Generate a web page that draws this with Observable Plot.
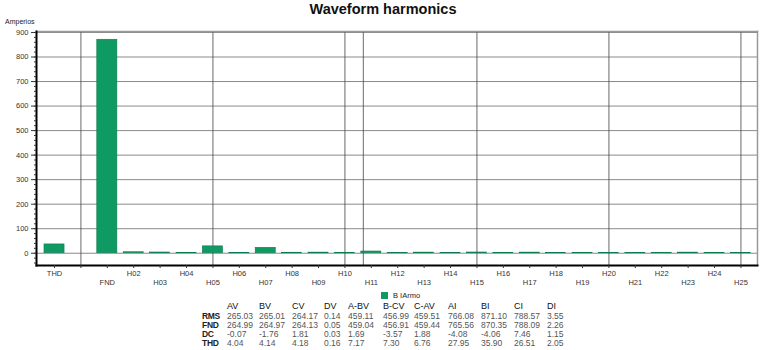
<!DOCTYPE html>
<html><head><meta charset="utf-8">
<script src="https://cdn.jsdelivr.net/npm/d3@7"></script>
<script src="https://cdn.jsdelivr.net/npm/@observablehq/plot@0.6"></script>
<style>
body{margin:0;background:#fff;font-family:"Liberation Sans",Arial,sans-serif;}
#wrap{position:relative;width:762px;height:350px;overflow:hidden;background:#fff}
#title{position:absolute;left:0;width:766px;top:1px;text-align:center;font-size:14.5px;font-weight:bold;color:#111;line-height:16px}
#unit{position:absolute;left:5px;top:18px;font-size:7px;color:#222}
.cell{position:absolute;font-size:8.5px;line-height:10px;white-space:nowrap}
.hdr{color:#111;font-size:9px}
.val{color:#555}
.rl{color:#222;font-weight:bold;font-size:8.5px;letter-spacing:-0.3px}
#legend{position:absolute;left:381px;top:291px;font-size:7.5px;color:#222;line-height:9px}
#legend span.sw{display:inline-block;width:7px;height:7px;background:#109a63;vertical-align:-1px;margin-right:5px}
</style></head><body><div id="wrap"></div>
<script>
// ---- data ----
const categories = ["THD","","FND","H02","H03","H04","H05","H06","H07","H08","H09","H10","H11","H12","H13","H14","H15","H16","H17","H18","H19","H20","H21","H22","H23","H24","H25"];
const values = [35.90, null, 870.35, 4, 3, 1.5, 28, 1.5, 22, 2, 2.5, 1.5, 7, 0.5, 2.5, 0.5, 3, 0.5, 2.5, 0.3, 0.5, 0.3, 0.5, 0.3, 2.5, 0.3, 0.3];
const upperLabels = ["THD","H02","H04","H06","H08","H10","H12","H14","H16","H18","H20","H22","H24"];
const lowerLabels = ["FND","H03","H05","H07","H09","H11","H13","H15","H17","H19","H21","H23","H25"];
const yTicks = [0,100,200,300,400,500,600,700,800,900];
const yMinorTicks = [-40,-20,0,20,40,60,80,100,120,140,160,180,200,220,240,260,280,300,320,340,360,380,400,420,440,460,480,500,520,540,560,580,600,620,640,660,680,700,720,740,760,780,800,820,840,860,880,900];
const gridCategories = ["","H05","H10","H15","H20","H25"];
const cursorCategory = ["H11"];
const seriesName = "B IArmo";
const titleText = "Waveform harmonics";
const unitText = "Amperios";
const tableCols = ["AV","BV","CV","DV","A-BV","B-CV","C-AV","AI","BI","CI","DI"];
const tableRows = ["RMS","FND","DC","THD"];
const rmsVals = ["265.03","265.01","264.17","0.14","459.11","456.99","459.51","766.08","871.10","788.57","3.55"];
const fndVals = ["264.99","264.97","264.13","0.05","459.04","456.91","459.44","765.56","870.35","788.09","2.26"];
const dcVals  = ["-0.07","-1.76","1.81","0.03","1.69","-3.57","1.88","-4.08","-4.06","7.46","1.15"];
const thdVals = ["4.04","4.14","4.18","0.16","7.17","7.30","6.76","27.95","35.90","26.51","2.05"];

// ---- layout ----
const colX = [227,259,292,324,348,383,414,448,481,514,547];
const rowLabelX = 202;
const rowY = [301,310.5,319.5,329,337.5];
const barColor = "#109a63";

const bars = categories.map((c,i)=>({cat:c, value:values[i]})).filter(d=>d.value!=null);

const chart = Plot.plot({
  width: 762, height: 292,
  marginLeft: 36, marginRight: 5, marginTop: 31, marginBottom: 27,
  style: {fontFamily: '"Liberation Sans", Arial, sans-serif', background: "#fff"},
  x: {domain: categories, paddingInner: 0.24, paddingOuter: 0.275, align: 0.55, round: false, label: null},
  y: {domain: [-50, 904], label: null},
  marks: [
    Plot.ruleY(yTicks, {stroke: "#8a8a8a", strokeWidth: 1}),
    Plot.ruleX(gridCategories, {stroke: "#444", strokeWidth: 0.8}),
    Plot.ruleX(cursorCategory, {stroke: "#444", strokeWidth: 0.8, dx: -8}),
    Plot.frame({anchor: "top", stroke: "#999", strokeWidth: 1.5}),
    Plot.frame({anchor: "right", stroke: "#999", strokeWidth: 1.5}),
    Plot.barY(bars, {x: "cat", y: "value", fill: barColor, stroke: "#0c7a4e", strokeWidth: 0.6}),
    Plot.frame({anchor: "left", stroke: "#000", strokeWidth: 2}),
    Plot.frame({anchor: "bottom", stroke: "#000", strokeWidth: 2}),
    Plot.axisY({ticks: yTicks, tickSize: 5, tickPadding: 3, fontSize: 7.5, color: "#333", label: null}),
    Plot.axisY({ticks: yMinorTicks, tickSize: 2, tickFormat: () => "", color: "#333", label: null}),
    Plot.axisX({ticks: categories, tickSize: 3, tickFormat: () => "", color: "#333", label: null}),
    Plot.axisX({ticks: upperLabels, tickSize: 0, tickPadding: 5, fontSize: 7.5, color: "#333", label: null}),
    Plot.axisX({ticks: lowerLabels, tickSize: 0, tickPadding: 14, fontSize: 7.5, color: "#333", label: null})
  ]
});

const wrap = document.getElementById("wrap");
wrap.appendChild(chart);
chart.style.position = "absolute"; chart.style.left = "0"; chart.style.top = "0";

const t = document.createElement("div"); t.id = "title"; t.textContent = titleText; wrap.appendChild(t);
const u = document.createElement("div"); u.id = "unit"; u.textContent = unitText; wrap.appendChild(u);
const lg = document.createElement("div"); lg.id = "legend";
lg.innerHTML = '<span class="sw"></span>'; lg.appendChild(document.createTextNode(seriesName)); wrap.appendChild(lg);

function cell(text, x, y, cls){
  const d = document.createElement("div"); d.className = "cell " + cls;
  d.style.left = x + "px"; d.style.top = y + "px"; d.textContent = text; wrap.appendChild(d);
}
tableCols.forEach((c,i)=>cell(c, colX[i], rowY[0], "hdr"));
[rmsVals, fndVals, dcVals, thdVals].forEach((arr, r)=>{
  cell(tableRows[r], rowLabelX, rowY[r+1], "rl");
  arr.forEach((v,i)=>cell(v, colX[i], rowY[r+1], "val"));
});
</script></body></html>
